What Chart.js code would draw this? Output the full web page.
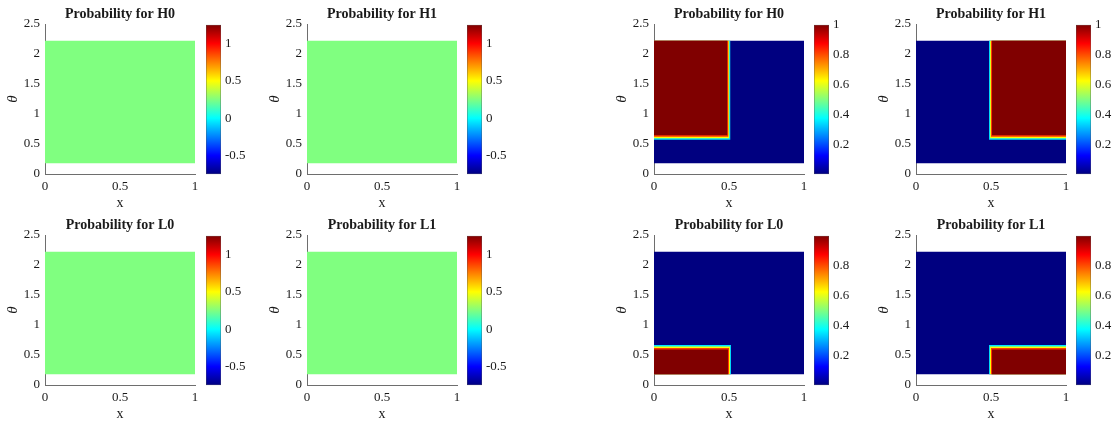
<!DOCTYPE html>
<html><head><meta charset="utf-8">
<script src="https://cdn.jsdelivr.net/npm/chart.js@4.4.1/dist/chart.umd.min.js"></script>
<style>
html,body{margin:0;padding:0;background:#fff;width:1112px;height:421px;overflow:hidden}
#fig{position:relative;width:1112px;height:421px}
canvas{position:absolute}
</style></head><body>
<div id="fig"></div>
<script>
// ---------- data ----------
const xTicks = [0, 0.5, 1];
const thetaTicks = [0, 0.5, 1, 1.5, 2, 2.5];
const panelTitles = ['Probability for H0', 'Probability for H1', 'Probability for L0', 'Probability for L1'];

// regions of the sampled (x, theta) points: [x0, x1, theta0, theta1, probability], painted in order
const uniformRegions = [[0, 1, 0.18, 2.22, 0.25]];
const uniformClim = [-0.75, 1.25];
const uniformBarTicks = [-0.5, 0, 0.5, 1];

const h0Regions = [
  [0, 1, 0.18, 2.22, 0.003],
  [0, 0.51, 0.57, 2.22, 0.35],
  [0, 0.503, 0.595, 2.22, 0.62],
  [0, 0.497, 0.62, 2.22, 0.82],
  [0, 0.49, 0.645, 2.22, 1.0]
];
const h1Regions = [
  [0, 1, 0.18, 2.22, 0.003],
  [0.487, 1, 0.57, 2.22, 0.35],
  [0.494, 1, 0.595, 2.22, 0.62],
  [0.5, 1, 0.62, 2.22, 0.82],
  [0.507, 1, 0.645, 2.22, 1.0]
];
const l0Regions = [
  [0, 1, 0.18, 2.22, 0.004],
  [0, 0.513, 0.18, 0.665, 0.35],
  [0, 0.507, 0.18, 0.64, 0.62],
  [0, 0.5, 0.18, 0.615, 0.82],
  [0, 0.493, 0.18, 0.59, 0.997]
];
const l1Regions = [
  [0, 1, 0.18, 2.22, 0.004],
  [0.487, 1, 0.18, 0.665, 0.35],
  [0.493, 1, 0.18, 0.64, 0.62],
  [0.5, 1, 0.18, 0.615, 0.82],
  [0.507, 1, 0.18, 0.59, 0.997]
];
const hClim = [0.003, 1.0];
const lClim = [0.004, 0.997];
const probBarTicks = [0.2, 0.4, 0.6, 0.8, 1];

// ---------- layout ----------
const FONT = "'Liberation Serif','Times New Roman',serif";
const TEXT = '#1a1a1a';
const AXIS = '#6e6e6e';
const groupLefts = [0, 262, 609, 871];     // main canvas left edges
const barLefts = [206, 467, 814, 1076];    // colorbar plot-area left edges
const rowTops = [0, 211];

function jet(t) {
  t = Math.max(0, Math.min(1, t));
  const c = v => Math.round(255 * Math.max(0, Math.min(1, v)));
  return `rgb(${c(1.5 - Math.abs(4 * t - 3))},${c(1.5 - Math.abs(4 * t - 2))},${c(1.5 - Math.abs(4 * t - 1))})`;
}

const fig = document.getElementById('fig');
function makeCanvas(left, top, w, h) {
  const cv = document.createElement('canvas');
  cv.width = w; cv.height = h;
  cv.style.left = left + 'px'; cv.style.top = top + 'px';
  cv.style.width = w + 'px'; cv.style.height = h + 'px';
  fig.appendChild(cv);
  return cv;
}
const fmt = v => String(Math.round(v * 100) / 100);
const noGrid = {display: false, drawTicks: false, tickLength: 0};

function mainPanel(left, top, title, regions, clim) {
  const cv = makeCanvas(left, top, 207, 212);
  const datasets = regions.map(r => ({
    data: [{x: r[0], y: r[2]}, {x: r[1], y: r[2]}],
    fill: {value: r[3]},
    backgroundColor: jet((r[4] - clim[0]) / (clim[1] - clim[0])),
    borderColor: 'rgba(0,0,0,0)',
    borderWidth: 0,
    pointRadius: 0,
    tension: 0
  })).reverse();
  new Chart(cv, {
    type: 'line',
    data: {datasets},
    options: {
      responsive: false, animation: false, events: [],
      layout: {padding: {left: 0, right: 12, top: 0, bottom: 0}},
      plugins: {
        legend: {display: false}, tooltip: {enabled: false},
        title: {display: true, text: title, fullSize: false, color: TEXT,
          font: {family: FONT, size: 14, weight: 'bold', lineHeight: 1},
          padding: {top: 7, bottom: 3}}
      },
      scales: {
        x: {type: 'linear', min: 0, max: 1,
          afterBuildTicks: s => { s.ticks = xTicks.map(v => ({value: v})); },
          afterFit: s => { s.height = 38; },
          grid: noGrid,
          border: {display: true, color: AXIS, width: 1},
          ticks: {color: TEXT, padding: 5, font: {family: FONT, size: 13}, callback: v => fmt(v), maxRotation: 0},
          title: {display: true, text: 'x', color: TEXT, font: {family: FONT, size: 14, lineHeight: 1.2}, padding: {top: 0, bottom: 0}}
        },
        y: {type: 'linear', min: 0, max: 2.5,
          afterBuildTicks: s => { s.ticks = thetaTicks.map(v => ({value: v})); },
          afterFit: s => { s.width = 45; },
          grid: noGrid,
          border: {display: true, color: AXIS, width: 1},
          ticks: {color: TEXT, padding: 5, font: {family: FONT, size: 13}, callback: v => fmt(v)},
          title: {display: true, text: 'θ', color: TEXT, font: {family: FONT, size: 15, style: 'italic', lineHeight: 1.2}, padding: {top: 4, bottom: 0}}
        }
      }
    }
  });
}

function colorBar(left, top, clim, ticks) {
  const cv = makeCanvas(left, top + 13, 40, 173);
  new Chart(cv, {
    type: 'bar',
    data: {labels: [''], datasets: [{
      data: [clim],
      backgroundColor: c => {
        const a = c.chart.chartArea;
        if (!a) return 'rgba(0,0,0,0)';
        const g = c.chart.ctx.createLinearGradient(0, a.bottom, 0, a.top);
        for (let i = 0; i <= 32; i++) g.addColorStop(i / 32, jet(i / 32));
        return g;
      },
      borderColor: '#555', borderWidth: 0.7, borderSkipped: false,
      categoryPercentage: 1, barPercentage: 1
    }]},
    options: {
      responsive: false, animation: false, events: [],
      layout: {padding: {left: 0, right: 0, top: 10, bottom: 10}},
      plugins: {legend: {display: false}, tooltip: {enabled: false}, title: {display: false}},
      scales: {
        x: {display: false},
        y: {position: 'right', min: clim[0], max: clim[1],
          afterBuildTicks: s => { s.ticks = ticks.filter(v => v >= clim[0] && v <= clim[1]).map(v => ({value: v})); },
          afterFit: s => { s.width = 25; },
          grid: noGrid, border: {display: false},
          ticks: {color: TEXT, padding: 4, font: {family: FONT, size: 13}, callback: v => fmt(v)}
        }
      }
    }
  });
}

const rightRegions = [[h0Regions, h1Regions], [l0Regions, l1Regions]];
const rightClims = [hClim, lClim];
for (let row = 0; row < 2; row++) {
  for (let col = 0; col < 2; col++) {
    const t = panelTitles[row * 2 + col];
    // left group: uniform probabilities
    mainPanel(groupLefts[col], rowTops[row], t, uniformRegions, uniformClim);
    colorBar(barLefts[col], rowTops[row], uniformClim, uniformBarTicks);
    // right group
    mainPanel(groupLefts[col + 2], rowTops[row], t, rightRegions[row][col], rightClims[row]);
    colorBar(barLefts[col + 2], rowTops[row], rightClims[row], probBarTicks);
  }
}
</script>
</body></html>
